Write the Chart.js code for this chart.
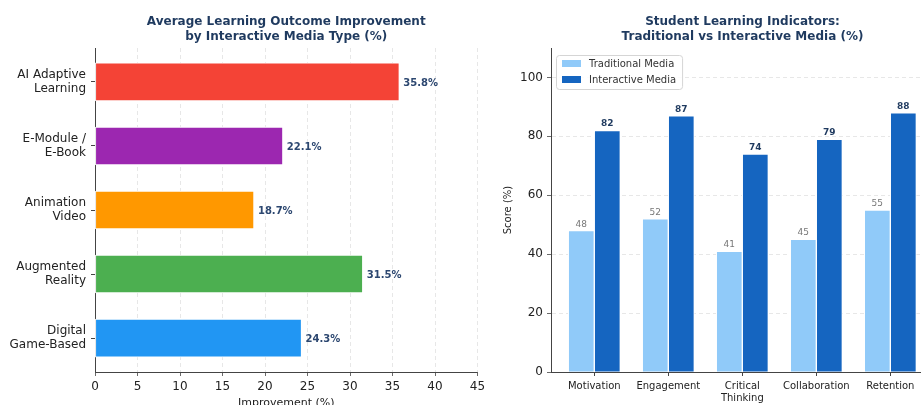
<!DOCTYPE html>
<html>
<head>
<meta charset="utf-8">
<script src="https://cdn.jsdelivr.net/npm/chart.js@4.4.1/dist/chart.umd.min.js"></script>
<style>
  html, body { margin: 0; padding: 0; background: #fff; overflow: hidden; width: 921px; height: 405px; }
  canvas { position: absolute; top: 0; }
  #mediaChart { left: 0; }
  #indicatorChart { left: 480px; }
</style>
</head>
<body>
<canvas id="mediaChart" width="500" height="420"></canvas>
<canvas id="indicatorChart" width="480" height="420"></canvas>
<script>
// left panel - improvement per media type, listed top to bottom
const mediaTypes = [['AI Adaptive', 'Learning'], ['E-Module /', 'E-Book'], ['Animation', 'Video'], ['Augmented', 'Reality'], ['Digital', 'Game-Based']];
const improvement = [35.8, 22.1, 18.7, 31.5, 24.3];
const mediaColors = ['#F44336', '#9C27B0', '#FF9800', '#4CAF50', '#2196F3'];
const improvementTicks = [0, 5, 10, 15, 20, 25, 30, 35, 40, 45];
const leftTitle = ['Average Learning Outcome Improvement', 'by Interactive Media Type (%)'];

// right panel - traditional vs interactive scores
const indicators = ['Motivation', 'Engagement', ['Critical', 'Thinking'], 'Collaboration', 'Retention'];
const traditionalScores = [48, 52, 41, 45, 55];
const interactiveScores = [82, 87, 74, 79, 88];
const scoreTicks = [0, 20, 40, 60, 80, 100];
const rightTitle = ['Student Learning Indicators:', 'Traditional vs Interactive Media (%)'];

Chart.defaults.font.family = "'DejaVu Sans', sans-serif";
Chart.defaults.color = '#222';

const AXIS = '#444';
const GRID = 'rgba(0,0,0,0.12)';

// two-line bold title centred over the plot area
const panelTitle = {
  id: 'panelTitle',
  afterDraw(chart, args, opts) {
    const { ctx, chartArea } = chart;
    const cx = (chartArea.left + chartArea.right) / 2;
    ctx.save();
    ctx.font = "bold 12px 'DejaVu Sans', sans-serif";
    ctx.fillStyle = '#1f3a5f';
    ctx.textAlign = 'center';
    ctx.textBaseline = 'alphabetic';
    opts.lines.forEach((line, i) => ctx.fillText(line, cx, 25 + i * 15));
    ctx.restore();
  }
};

// numbers written next to / above each bar
const valueLabels = {
  id: 'valueLabels',
  afterDatasetsDraw(chart, args, opts) {
    const ctx = chart.ctx;
    chart.data.datasets.forEach((ds, di) => {
      const style = opts.styles[di];
      chart.getDatasetMeta(di).data.forEach((bar, i) => {
        const point = ds.data[i];
        ctx.save();
        ctx.font = style.font;
        ctx.fillStyle = style.color;
        if (opts.horizontal) {
          ctx.textAlign = 'left';
          ctx.textBaseline = 'middle';
          ctx.fillText(point.x.toFixed(1) + '%', bar.x + 4, bar.y + 1);
        } else {
          ctx.textAlign = 'center';
          ctx.textBaseline = 'alphabetic';
          ctx.fillText(String(point.y), bar.x, bar.y - 4);
        }
        ctx.restore();
      });
    });
  }
};

// matplotlib-like legend box in the upper left corner of the plot
const boxLegend = {
  id: 'boxLegend',
  afterDraw(chart) {
    const { ctx, chartArea } = chart;
    const x = chartArea.left + 5, y = chartArea.top + 7;
    ctx.save();
    ctx.font = "10px 'DejaVu Sans', sans-serif";
    const textW = Math.max(...chart.data.datasets.map(d => ctx.measureText(d.label).width));
    const w = 33 + textW + 6, h = 34;
    ctx.fillStyle = 'rgba(255,255,255,0.85)';
    ctx.strokeStyle = '#d5d5d5';
    ctx.lineWidth = 1;
    ctx.beginPath();
    ctx.roundRect(x + 0.5, y + 0.5, w, h, 3);
    ctx.fill();
    ctx.stroke();
    chart.data.datasets.forEach((d, i) => {
      const rowY = y + 8.5 + i * 16;
      ctx.fillStyle = d.backgroundColor;
      ctx.fillRect(x + 6, rowY - 3.5, 19, 7);
      ctx.fillStyle = '#333';
      ctx.textAlign = 'left';
      ctx.textBaseline = 'middle';
      ctx.fillText(d.label, x + 33, rowY + 0.5);
    });
    ctx.restore();
  }
};

new Chart(document.getElementById('mediaChart'), {
  type: 'bar',
  data: {
    datasets: [{
      data: improvement.map((v, i) => ({ x: v, y: i })),
      backgroundColor: mediaColors,
      borderColor: '#fff',
      borderWidth: 1,
      borderSkipped: false,
      barThickness: 38
    }]
  },
  plugins: [panelTitle, valueLabels],
  options: {
    indexAxis: 'y',
    responsive: false,
    animation: false,
    layout: { padding: { left: 0, top: 48, right: 22.5, bottom: 0 } },
    plugins: {
      legend: { display: false },
      tooltip: { enabled: false },
      panelTitle: { lines: leftTitle },
      valueLabels: { horizontal: true, styles: [{ font: "bold 10px 'DejaVu Sans', sans-serif", color: '#2c4770' }] }
    },
    scales: {
      x: {
        type: 'linear',
        min: 0,
        max: 45,
        afterBuildTicks: s => { s.ticks = improvementTicks.map(v => ({ value: v })); },
        afterFit: s => { s.height = 48; },
        ticks: { font: { size: 12 }, color: '#222', padding: 4 },
        grid: { color: GRID, lineWidth: 0.8, tickColor: AXIS, tickLength: 4 },
        border: { color: AXIS, width: 1, dash: [4, 3] },
        title: { display: true, text: 'Improvement (%)', font: { size: 11 }, color: '#222', padding: { top: 0, bottom: 10 } }
      },
      y: {
        type: 'linear',
        reverse: true,
        offset: false,
        min: -0.53,
        max: 4.53,
        afterBuildTicks: s => { s.ticks = mediaTypes.map((m, i) => ({ value: i })); },
        afterFit: s => { s.width = 95; },
        ticks: { callback: v => mediaTypes[v], font: { size: 12, lineHeight: 1.15 }, color: '#222', padding: 5 },
        grid: { offset: false, drawOnChartArea: false, tickColor: AXIS, tickLength: 4 },
        border: { color: AXIS, width: 1 }
      }
    }
  }
});

new Chart(document.getElementById('indicatorChart'), {
  type: 'bar',
  data: {
    datasets: [{
      label: 'Traditional Media',
      data: traditionalScores.map((v, i) => ({ x: i, y: v })),
      backgroundColor: '#90CAF9',
      borderColor: '#fff',
      borderWidth: 1,
      barThickness: 26
    }, {
      label: 'Interactive Media',
      data: interactiveScores.map((v, i) => ({ x: i, y: v })),
      backgroundColor: '#1565C0',
      borderColor: '#fff',
      borderWidth: 1,
      barThickness: 26
    }]
  },
  plugins: [panelTitle, valueLabels, boxLegend],
  options: {
    responsive: false,
    animation: false,
    layout: { padding: { left: 0, top: 48, right: 26, bottom: 0 } },
    plugins: {
      legend: { display: false },
      tooltip: { enabled: false },
      panelTitle: { lines: rightTitle },
      valueLabels: {
        horizontal: false,
        styles: [
          { font: "9px 'DejaVu Sans', sans-serif", color: '#777' },
          { font: "bold 9px 'DejaVu Sans', sans-serif", color: '#1f3a5f' }
        ]
      }
    },
    scales: {
      x: {
        type: 'linear',
        offset: false,
        min: -0.585,
        max: 4.59,
        afterBuildTicks: s => { s.ticks = indicators.map((c, i) => ({ value: i })); },
        afterFit: s => { s.height = 48; },
        ticks: { callback: v => indicators[v], font: { size: 10, lineHeight: 1.25 }, color: '#222', padding: 4, maxRotation: 0, autoSkip: false },
        grid: { offset: false, drawOnChartArea: false, tickColor: AXIS, tickLength: 4 },
        border: { color: AXIS, width: 1 }
      },
      y: {
        min: 0,
        max: 110,
        afterBuildTicks: s => { s.ticks = scoreTicks.map(v => ({ value: v })); },
        afterFit: s => { s.width = 71; },
        ticks: { font: { size: 12 }, color: '#222', padding: 4 },
        grid: { color: GRID, lineWidth: 0.8, tickColor: AXIS, tickLength: 4 },
        border: { color: AXIS, width: 1, dash: [4, 3] },
        title: { display: true, text: 'Score (%)', font: { size: 10 }, color: '#222', padding: { top: 22, bottom: 0 } }
      }
    }
  }
});
</script>
</body>
</html>
